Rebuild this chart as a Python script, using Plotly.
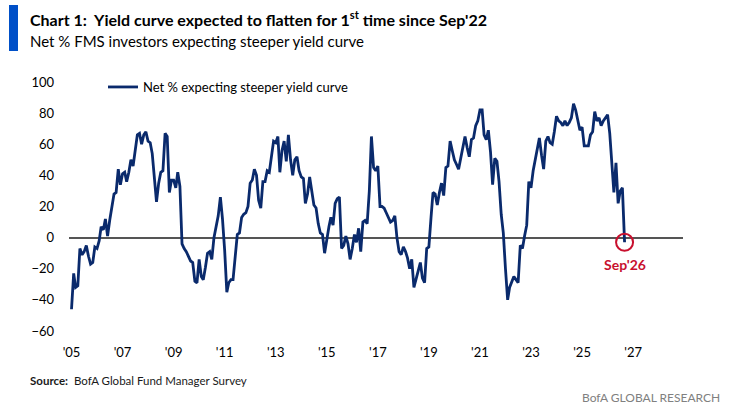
import pandas as pd
import plotly.graph_objects as go

# Net % of FMS investors expecting a steeper yield curve, monthly from Jan 2005 to Sep 2026
net_steeper = [
    -46, -23, -32, -31, -7, -11, -9, -5, -12, -17, -16, -6,      # 2005
    -7, -2, 7, 5, 12, 1, 11, 20, 28, 29, 44, 34,                 # 2006
    41, 42, 36, 42, 50, 46, 55, 66, 67, 60, 66, 68,              # 2007
    62, 61, 54, 37, 23, 35, 42, 43, 67, 65, 29, 37,              # 2008
    37, 32, 42, 33, -4, -7, -9, -12, -15, -16, -28, -29,         # 2009
    -14, -25, -27, -19, -10, -9, -14, 0, 7, 14, 26, 12,          # 2010
    -8, -35, -29, -27, -27, -10, 2, 3, 13, 15, 16, 20,           # 2011
    35, 37, 44, 40, 24, 19, 36, 36, 43, 42, 52, 62,              # 2012
    61, 65, 42, 56, 62, 49, 66, 50, 40, 50, 52, 43,              # 2013
    39, 38, 22, 28, 39, 28, 21, 19, 9, 3, 2, -10,                # 2014
    0, 7, 13, 8, 22, 25, 26, -7, -5, 1, -4, -14,                 # 2015
    -7, 2, -3, 6, -9, 10, 11, 9, 30, 65, 45, 43,                 # 2016
    46, 20, 20, 19, 16, 13, 10, 11, 14, 0, -9, -11,              # 2017
    -6, -9, -13, -20, -14, -32, -27, -22, -16, -26, -29, -7,     # 2018
    -6, 13, 29, 28, 21, 29, 35, 27, 45, 46, 62, 56,              # 2019
    50, 47, 44, 51, 59, 65, 58, 52, 63, 64, 72, 75,              # 2020
    82, 82, 66, 63, 69, 55, 34, 51, 49, 36, 15, 3,               # 2021
    -20, -40, -32, -28, -25, -27, -29, -5, -7, 1, 8, 36,         # 2022
    32, 43, 50, 59, 64, 53, 44, 62, 65, 61, 60, 68,              # 2023
    78, 75, 74, 72, 75, 72, 74, 77, 86, 82, 75, 69,              # 2024
    71, 59, 59, 59, 66, 68, 81, 75, 77, 72, 75, 77,              # 2025
    79, 67, 49, 29, 48, 22, 30, 32, -3,                          # 2026
]
months = pd.date_range("2005-01-01", periods=len(net_steeper), freq="MS")

# x-axis ticks: every other January
tick_dates = pd.date_range("2005-01-01", "2027-01-01", freq="2YS")
tick_labels = ["'05", "'07", "'09", "'11", "'13", "'15", "'17", "'19", "'21", "'23", "'25", "'27"]

NAVY = "#0A2A6C"
RED = "#C8102E"
FONT = "Lato"

# canvas / plot area in pixels
W, H = 731, 415
L, R, T, B = 69, 48, 82, 84
PW, PH = W - L - R, H - T - B


def px(x):
    return (x - L) / PW


def py(y):
    return (H - B - y) / PH


fig = go.Figure()

fig.add_trace(go.Scatter(
    x=months, y=net_steeper,
    mode="lines",
    line=dict(color=NAVY, width=2.8),
    name="Net % expecting steeper yield curve",
))

# highlight the latest reading
fig.add_trace(go.Scatter(
    x=[months[-1]], y=[net_steeper[-1]],
    mode="markers",
    marker=dict(symbol="circle-open", size=17, color=RED, line=dict(width=2, color=RED)),
    showlegend=False, hoverinfo="skip",
))
fig.add_annotation(
    x=months[-1], y=net_steeper[-1], text="<b>Sep'26</b>",
    showarrow=False, yshift=-22, font=dict(family=FONT, size=14, color=RED),
)

# title block
fig.add_shape(type="rect", xref="paper", yref="paper",
              x0=px(9), x1=px(18), y0=py(51), y1=py(5),
              fillcolor="#0050C8", line_width=0)
fig.add_annotation(
    xref="paper", yref="paper", x=px(28), y=py(19), xanchor="left", yanchor="middle",
    text="<b>Chart 1:  Yield curve expected to flatten for 1<sup>st</sup> time since Sep'22</b>",
    showarrow=False, font=dict(family=FONT, size=16, color="#000000"),
)
fig.add_annotation(
    xref="paper", yref="paper", x=px(28), y=py(41), xanchor="left", yanchor="middle",
    text="Net % FMS investors expecting steeper yield curve",
    showarrow=False, font=dict(family=FONT, size=15, color="#000000"),
)

# footer
fig.add_annotation(
    xref="paper", yref="paper", x=px(28), y=py(380), xanchor="left", yanchor="middle",
    text="<b>Source:</b>  BofA Global Fund Manager Survey",
    showarrow=False, font=dict(family=FONT, size=11.5, color="#1a1a1a"),
)
fig.add_annotation(
    xref="paper", yref="paper", x=px(722), y=py(397), xanchor="right", yanchor="middle",
    text="BofA GLOBAL RESEARCH",
    showarrow=False, font=dict(family=FONT, size=12, color="#808080"),
)

fig.update_layout(
    width=W, height=H,
    margin=dict(l=L, r=R, t=T, b=B),
    paper_bgcolor="white", plot_bgcolor="white",
    font=dict(family=FONT, size=13, color="#000000"),
    showlegend=True,
    legend=dict(x=px(103), y=py(87), xanchor="left", yanchor="middle",
                bgcolor="rgba(0,0,0,0)", font=dict(size=13)),
)
fig.update_xaxes(
    range=["2004-11-26", "2028-12-15"],
    tickvals=tick_dates, ticktext=tick_labels,
    showgrid=False, showline=False, zeroline=False, ticks="",
    ticklabelstandoff=12,
)
fig.update_yaxes(
    range=[-60, 100], dtick=20,
    showgrid=False, showline=False, ticks="",
    zeroline=True, zerolinecolor="#555555", zerolinewidth=1.5,
    ticklabelstandoff=14,
)

# drop the default page margin so the figure sits at the window corner
fig.write_html("out.html", config={"displayModeBar": False},
               post_script="document.body.style.margin='0';")
